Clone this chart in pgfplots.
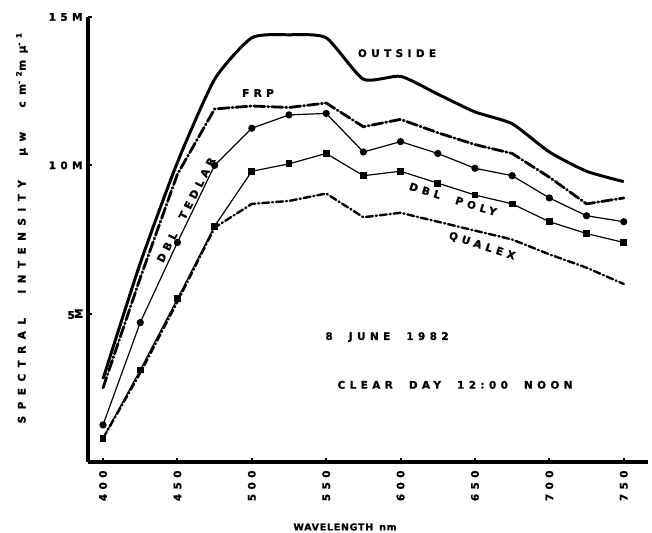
\documentclass[border=0pt]{standalone}
\usepackage{pgfplots}
\pgfplotsset{compat=1.18}
\usepackage{fontspec}
\setmainfont{DejaVu Sans}
\newfontfamily\labfam[LetterSpace=42,WordSpace=2.0,FakeBold=1.2]{DejaVu Sans}
\newfontfamily\labwide[LetterSpace=62,WordSpace=2.4,FakeBold=1.2]{DejaVu Sans}
\newfontfamily\labnarrow[LetterSpace=8,WordSpace=1.5,FakeBold=1.2]{DejaVu Sans}
\newcommand\labf{\labfam\bfseries}
\begin{document}
\begin{tikzpicture}
\begin{axis}[
  at={(0,0)}, anchor=south west,
  scale only axis, width=560bp, height=445bp,
  xmin=389.9, xmax=766.3, ymin=0, ymax=15,
  axis lines*=left,
  axis line style={line width=3.5pt},
  clip=false,
  xtick={400,450,500,550,600,650,700,750},
  xticklabels={400,450,500,550,600,650,700,750},
  ytick={5,10,15},
  yticklabels={5\rotatebox{90}{M},10M,15M},
  tick align=inside, major tick length=4pt,
  tick style={line width=2pt, black},
  xticklabel style={rotate=90, anchor=east, font=\labf\fontsize{10.5}{11}\selectfont},
  xticklabel shift=5pt,
  yticklabel style={font=\labf\fontsize{10.5}{11}\selectfont},
  yticklabel shift=2pt,
  xlabel={\labnarrow\bfseries\fontsize{9.5}{10}\selectfont WAVELENGTH nm},
  xlabel style={at={(axis description cs:0.459,-0.146)}, anchor=center},
  ylabel={\labwide\bfseries\fontsize{10.5}{11}\selectfont SPECTRAL INTENSITY μw cm\textsuperscript{-2}mμ\textsuperscript{-1}},
  ylabel style={at={(axis description cs:-0.118,0.526)}, anchor=center, rotate=0},
]
% OUTSIDE
\addplot[black, line width=3pt, smooth, tension=0.35, line join=round] coordinates {
 (400,2.8) (425,6.7) (450,10.1) (475,12.9) (500,14.3) (525,14.4) (550,14.3)
 (575,12.9) (600,13.0) (625,12.4) (650,11.8) (675,11.4) (700,10.45) (725,9.8) (750,9.45)};
% FRP
\addplot[black, line width=2.8pt, line cap=round, line join=round,
  dash pattern=on 11pt off 3pt on 1pt off 3pt] coordinates {
 (400,2.5) (425,6.2) (450,9.7) (475,11.9) (500,12.0) (525,11.95) (550,12.1)
 (575,11.3) (600,11.55) (625,11.1) (650,10.7) (675,10.4) (700,9.6) (725,8.7) (750,8.9)};
% DBL TEDLAR
\addplot[black, line width=1.2pt, mark=*, mark size=3pt] coordinates {
 (400,1.25) (425,4.7) (450,7.4) (475,10.0) (500,11.25) (525,11.7) (550,11.75)
 (575,10.45) (600,10.8) (625,10.4) (650,9.9) (675,9.65) (700,8.9) (725,8.3) (750,8.1)};
% DBL POLY
\addplot[black, line width=1.2pt, mark=square*, mark size=2.8pt] coordinates {
 (400,0.8) (425,3.1) (450,5.5) (475,7.95) (500,9.8) (525,10.05) (550,10.4)
 (575,9.65) (600,9.8) (625,9.4) (650,9.0) (675,8.7) (700,8.1) (725,7.7) (750,7.4)};
% QUALEX
\addplot[black, line width=2.4pt, line cap=round, line join=round,
  dash pattern=on 7pt off 3pt on 1pt off 3pt] coordinates {
 (400,0.8) (425,3.0) (450,5.4) (475,7.9) (500,8.7) (525,8.8) (550,9.05)
 (575,8.25) (600,8.4) (625,8.1) (650,7.8) (675,7.5) (700,7.0) (725,6.55) (750,6.0)};
\node[font=\labf\fontsize{10.5}{11}\selectfont] at (axis cs:597.6,13.78) {OUTSIDE};
\node[font=\labf\fontsize{10.5}{11}\selectfont] at (axis cs:504.2,12.44) {FRP};
\node[font=\labf\fontsize{10.5}{11}\selectfont, rotate=63] at (axis cs:455.8,8.5) {DBL TEDLAR};
\node[font=\labf\fontsize{10.5}{11}\selectfont, rotate=-17] at (axis cs:635.2,8.86) {DBL POLY};
\node[font=\labf\fontsize{10.5}{11}\selectfont, rotate=-18] at (axis cs:654.7,7.28) {QUALEX};
\node[font=\labf\fontsize{10.5}{11}\selectfont] at (axis cs:590.9,4.21) {8 JUNE 1982};
\node[font=\labf\fontsize{10.5}{11}\selectfont] at (axis cs:636.6,2.6) {CLEAR DAY 12:00 NOON};
\end{axis}
\pgfresetboundingbox
\useasboundingbox (-88bp,-71bp) rectangle (564bp,462bp);
\end{tikzpicture}
\end{document}
